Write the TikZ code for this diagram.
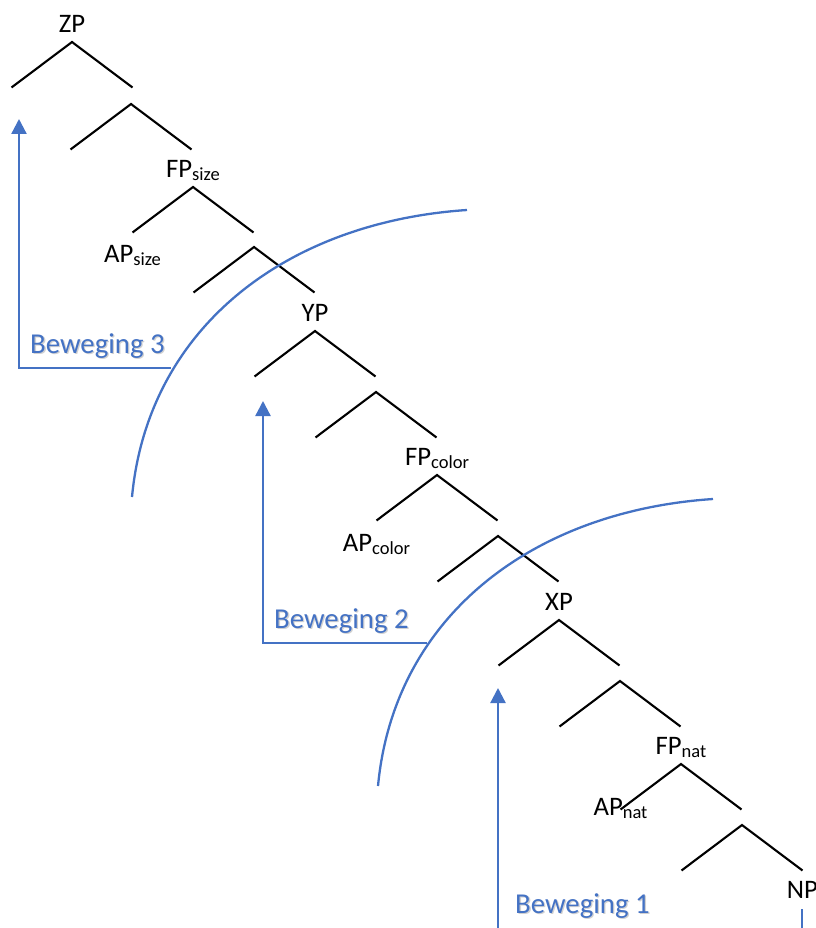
\documentclass[tikz,border=0pt]{standalone}
\usepackage{fontspec}
\setmainfont{Carlito}
\usetikzlibrary{arrows.meta}
\definecolor{moveblue}{HTML}{4472C4}
% category subscript, set smaller and lowered
\newcommand\catsub[1]{{\fontsize{18.5}{20}\selectfont\raisebox{-3pt}{#1}}}

\begin{document}
\begin{tikzpicture}[x=1pt,y=-1pt,
  leg/.style={draw=black,line width=2.1pt},
  movepath/.style={draw=moveblue,line width=2.3pt},
  movetip/.style={-{Triangle[width=15pt,length=15pt]}},
  catlabel/.style={inner sep=0pt,anchor=base,font=\fontsize{26.7}{30}\selectfont},
  movelabel/.style={inner sep=0pt,anchor=base west,text=moveblue,font=\fontsize{28.8}{32}\selectfont},
  moveshadow/.style={inner sep=0pt,anchor=base west,text=black,opacity=0.18,font=\fontsize{28.8}{32}\selectfont}
]
\useasboundingbox (0,0) rectangle (815,928);
\clip (0,0) rectangle (815,928);

% binary branchings: apex a, left end l, right end r
\foreach \n/\x/\y in {1/72/42, 2/131/104, 3/193/187, 4/254/247, 5/315/331,
    6/376/392, 7/437/475, 8/498/536, 9/559/620, 10/620/681, 11/681/764, 12/742/825} {
  \coordinate (a\n) at (\x,\y);
  \coordinate (l\n) at (\x-60.5,\y+45.5);
  \coordinate (r\n) at (\x+60.5,\y+45.5);
  \draw[leg] (l\n) -- (a\n) -- (r\n);
}

% category labels
\node[catlabel] (zp) at ([yshift=9.5pt]a1) {ZP};
\node[catlabel] (fpsize) at ([yshift=9.5pt]a3) {FP\catsub{size}};
\node[catlabel] (yp) at ([yshift=9.5pt]a5) {YP};
\node[catlabel] (fpcolor) at ([yshift=9.5pt]a7) {FP\catsub{color}};
\node[catlabel] (xp) at ([yshift=9.5pt]a9) {XP};
\node[catlabel] (fpnat) at ([yshift=9.5pt]a11) {FP\catsub{nat}};
\node[catlabel] (apsize) at ([yshift=-30pt]l3) {AP\catsub{size}};
\node[catlabel] (apcolor) at ([yshift=-30.5pt]l7) {AP\catsub{color}};
\node[catlabel] (apnat) at ([yshift=-5.5pt]l11) {AP\catsub{nat}};
\node[catlabel] (np) at ([yshift=-27.5pt]r12) {NP};

% boundaries of the movement domains
\coordinate (arcAstart) at (132,497);
\coordinate (arcAend) at (467,210);
\draw[movepath] (arcAstart) .. controls (148,327) and (287,222) .. (arcAend);
\coordinate (arcBstart) at (378,786);
\coordinate (arcBend) at (713,499);
\draw[movepath] (arcBstart) .. controls (394,616) and (533,511) .. (arcBend);

% movement 3
\coordinate (m3end) at (171,368);
\coordinate (m3corner) at (19,368);
\coordinate (m3tip) at (19,119);
\draw[movepath,movetip] (m3end) -- (m3corner) -- (m3tip);
\node[moveshadow] (m3shadow) at (31.3,354.3) {Beweging 3};
\node[movelabel] (m3label) at (30,353) {Beweging 3};

% movement 2
\coordinate (m2end) at (427,643);
\coordinate (m2corner) at (263,643);
\coordinate (m2tip) at (263,401);
\draw[movepath,movetip] (m2end) -- (m2corner) -- (m2tip);
\node[moveshadow] (m2shadow) at (275.3,629.3) {Beweging 2};
\node[movelabel] (m2label) at (274,628) {Beweging 2};

% movement 1
\coordinate (m1foot) at (498,945);
\coordinate (m1tip) at (498,688);
\draw[movepath,movetip] (m1foot) -- (m1tip);
\node[moveshadow] (m1shadow) at (516.3,914.3) {Beweging 1};
\node[movelabel] (m1label) at (515,913) {Beweging 1};

% line leaving NP
\coordinate (npfoot) at (802,945);
\coordinate (nptop) at (802,909);
\draw[movepath] (nptop) -- (npfoot);
\end{tikzpicture}
\end{document}
